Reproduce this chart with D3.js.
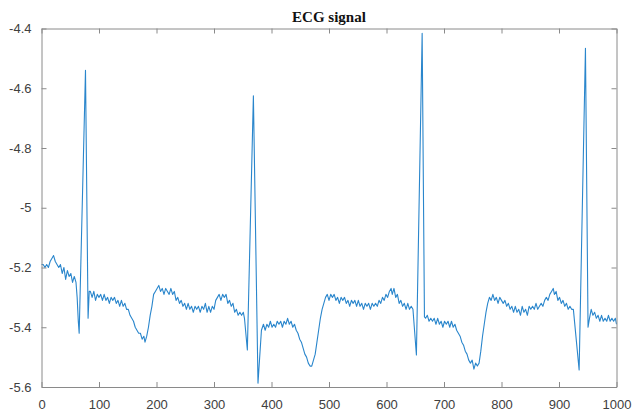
<!DOCTYPE html>
<html>
<head>
<meta charset="utf-8">
<script src="https://cdn.jsdelivr.net/npm/d3@7"></script>
<style>
  html, body { margin: 0; padding: 0; background: #fff; }
  svg { display: block; }
</style>
</head>
<body>
<svg id="chart" width="641" height="412"></svg>
<script>
// ---- data (sample index, amplitude) ----
const chartTitle = "ECG signal";
const sampleIdx = [
  0,3,6,9,12,15,18,21,24,27,30,33,36,39,42,45,48,51,54,57,60,62,64,65.5,
  76.5,81,83,85,88,91,94,97,100,103,106,109,112,115,118,121,124,127,130,133,136,139,142,145,148,
  151,154,157,160,163,166,169,172,175,178,180,183,186,189,192,195,198,201,204,
  207,210,213,216,219,222,225,228,231,234,237,240,243,246,249,252,255,258,261,264,267,270,273,276,279,282,285,288,291,294,297,300,
  303,306,309,312,315,318,321,324,327,330,333,336,339,342,345,348,351,353,
  358,368.5,376.5,382.5,
  386,389,392,395,398,401,404,407,410,413,416,419,422,425,428,431,434,437,440,443,
  446,449,452,455,458,461,464,467,470,473,476,479,482,485,488,491,494,
  497,500,503,506,509,512,515,518,521,524,527,530,533,536,539,542,545,548,551,554,557,560,563,566,569,572,575,578,581,584,587,590,
  593,596,599,602,605,608,610,613,616,619,622,625,628,631,634,637,640,643,646,
  652,662,666,
  668,671,674,677,680,683,686,689,692,695,698,701,704,707,710,713,716,719,722,
  725,728,731,734,737,740,743,746,749,752,755,758,761,764,767,770,773,776,
  779,782,785,788,791,794,797,800,803,806,809,812,815,818,821,824,827,830,833,836,839,842,845,848,851,854,857,860,863,866,869,872,
  875,878,881,884,887,890,892,895,898,901,904,907,910,913,916,919,922,925,
  935,946,950.5,
  953,956,959,962,965,968,971,974,977,980,983,986,989,992,995,998,1000
];
const ecgValues = [
  -5.19,-5.19,-5.20,-5.19,-5.20,-5.18,-5.17,-5.16,-5.18,-5.19,-5.20,-5.19,-5.22,-5.20,-5.24,-5.21,-5.23,-5.22,-5.25,-5.23,-5.25,-5.30,-5.38,-5.42,
  -4.54,-5.37,-5.28,-5.28,-5.30,-5.28,-5.31,-5.29,-5.30,-5.29,-5.31,-5.29,-5.31,-5.30,-5.32,-5.30,-5.31,-5.30,-5.32,-5.31,-5.33,-5.31,-5.33,-5.32,-5.34,
  -5.34,-5.36,-5.37,-5.38,-5.40,-5.41,-5.42,-5.42,-5.44,-5.43,-5.45,-5.43,-5.40,-5.36,-5.33,-5.29,-5.28,-5.27,-5.26,
  -5.28,-5.27,-5.29,-5.27,-5.28,-5.29,-5.27,-5.29,-5.28,-5.31,-5.30,-5.32,-5.31,-5.33,-5.32,-5.34,-5.32,-5.34,-5.33,-5.35,-5.33,-5.34,-5.33,-5.35,-5.33,-5.34,-5.32,-5.35,-5.33,-5.35,-5.33,-5.34,
  -5.31,-5.30,-5.29,-5.31,-5.29,-5.30,-5.29,-5.32,-5.31,-5.33,-5.32,-5.35,-5.34,-5.36,-5.35,-5.36,-5.35,-5.37,
  -5.476,-4.625,-5.587,-5.41,
  -5.39,-5.41,-5.39,-5.40,-5.38,-5.40,-5.39,-5.40,-5.38,-5.39,-5.38,-5.40,-5.38,-5.39,-5.37,-5.39,-5.38,-5.40,-5.39,-5.41,
  -5.42,-5.44,-5.45,-5.47,-5.49,-5.50,-5.52,-5.53,-5.53,-5.51,-5.49,-5.45,-5.41,-5.37,-5.34,-5.32,-5.30,
  -5.29,-5.31,-5.29,-5.30,-5.29,-5.31,-5.30,-5.32,-5.30,-5.31,-5.30,-5.32,-5.31,-5.33,-5.31,-5.32,-5.31,-5.33,-5.31,-5.33,-5.32,-5.34,-5.32,-5.33,-5.32,-5.34,-5.32,-5.33,-5.32,-5.33,-5.31,-5.32,
  -5.30,-5.31,-5.29,-5.30,-5.28,-5.27,-5.29,-5.27,-5.30,-5.29,-5.32,-5.31,-5.33,-5.32,-5.34,-5.32,-5.34,-5.33,-5.34,
  -5.493,-4.416,-5.365,
  -5.37,-5.36,-5.38,-5.37,-5.38,-5.37,-5.39,-5.37,-5.39,-5.38,-5.40,-5.38,-5.39,-5.38,-5.40,-5.38,-5.40,-5.39,-5.41,
  -5.42,-5.43,-5.45,-5.46,-5.48,-5.49,-5.51,-5.52,-5.51,-5.54,-5.52,-5.53,-5.52,-5.48,-5.43,-5.39,-5.35,-5.32,
  -5.30,-5.31,-5.29,-5.31,-5.30,-5.32,-5.30,-5.31,-5.32,-5.31,-5.33,-5.32,-5.34,-5.33,-5.35,-5.33,-5.35,-5.34,-5.36,-5.33,-5.35,-5.34,-5.36,-5.33,-5.34,-5.33,-5.34,-5.32,-5.34,-5.33,-5.32,-5.33,
  -5.31,-5.30,-5.31,-5.29,-5.28,-5.27,-5.29,-5.28,-5.31,-5.30,-5.32,-5.31,-5.33,-5.32,-5.34,-5.33,-5.34,-5.34,
  -5.543,-4.466,-5.40,
  -5.37,-5.34,-5.36,-5.35,-5.37,-5.36,-5.38,-5.36,-5.38,-5.37,-5.38,-5.36,-5.38,-5.37,-5.38,-5.37,-5.39
];
const xTicks = [0,100,200,300,400,500,600,700,800,900,1000];
const yTicks = [-4.4,-4.6,-4.8,-5,-5.2,-5.4,-5.6];
const yTickLabels = ["-4.4","-4.6","-4.8","-5","-5.2","-5.4","-5.6"];

// ---- layout ----
const svg = d3.select("#chart");
const plotLeft = 41.5, plotRight = 616.5, plotTop = 28.5, plotBottom = 387;
const x = d3.scaleLinear().domain([0, 1000]).range([plotLeft, plotRight]);
const y = d3.scaleLinear().domain([-5.6, -4.4]).range([plotBottom, plotTop]);

const axisColor = "#8a8a8a";
const labelColor = "#404040";
const tickFont = "Liberation Sans, Arial, sans-serif";

// data line (drawn first, axes box over it)
const pts = sampleIdx.map((t, i) => [t, ecgValues[i]]);
const line = d3.line().x(d => x(d[0])).y(d => y(d[1]));
svg.append("path")
  .datum(pts)
  .attr("d", line)
  .attr("fill", "none")
  .attr("stroke", "#2a86cc")
  .attr("stroke-width", 1.1)
  .attr("stroke-linejoin", "round");

// axes (MATLAB style: inward ticks, full box)
const tickLen = 5;
const gB = svg.append("g").attr("transform", `translate(0,${plotBottom})`)
  .call(d3.axisBottom(x).tickValues(xTicks).tickSizeInner(-tickLen).tickSizeOuter(0).tickPadding(13).tickFormat(d3.format("d")));
const gT = svg.append("g").attr("transform", `translate(0,${plotTop})`)
  .call(d3.axisTop(x).tickValues(xTicks).tickSizeInner(-tickLen).tickSizeOuter(0).tickFormat(""));
const gL = svg.append("g").attr("transform", `translate(${plotLeft},0)`)
  .call(d3.axisLeft(y).tickValues(yTicks).tickSizeInner(-tickLen).tickSizeOuter(0).tickPadding(10)
    .tickFormat((d, i) => yTickLabels[i]));
const gR = svg.append("g").attr("transform", `translate(${plotRight},0)`)
  .call(d3.axisRight(y).tickValues(yTicks).tickSizeInner(-tickLen).tickSizeOuter(0).tickFormat(""));

[gB, gT, gL, gR].forEach(g => {
  g.select(".domain").attr("stroke", axisColor).attr("stroke-width", 1);
  g.selectAll(".tick line").attr("stroke", axisColor).attr("stroke-width", 1);
  g.selectAll(".tick text").attr("fill", labelColor)
    .style("font-family", tickFont).style("font-size", "13px");
});

// title
svg.append("text")
  .attr("x", (plotLeft + plotRight) / 2)
  .attr("y", 22)
  .attr("text-anchor", "middle")
  .style("font-family", "Liberation Serif, Times New Roman, serif")
  .style("font-weight", "bold")
  .style("font-size", "15px")
  .attr("fill", "#111")
  .text(chartTitle);
</script>
</body>
</html>
